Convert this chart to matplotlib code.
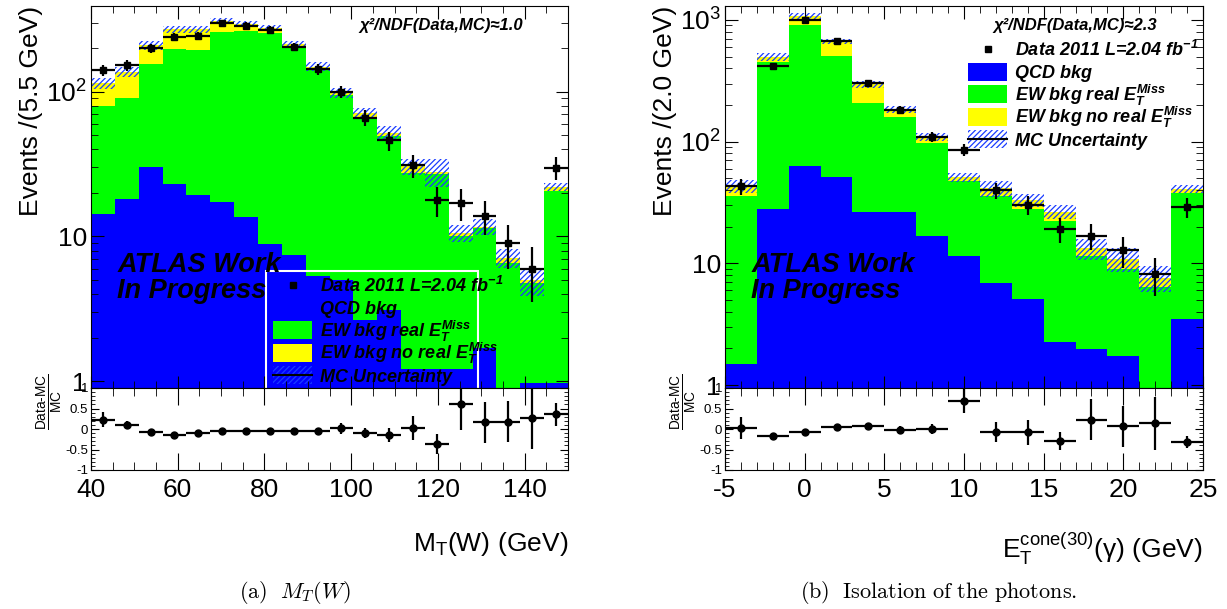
import numpy as np
import matplotlib
matplotlib.use('Agg')
import matplotlib.pyplot as plt
from matplotlib.patches import Rectangle
from matplotlib.ticker import MultipleLocator, LogLocator, FuncFormatter, NullFormatter, FixedLocator

# M_T(W) panel, 20 bins of 5.5 GeV from 40 to 150
mt_edges = 40 + 5.5 * np.arange(21)
mt_data = [141, 152, 199, 239, 242, 297, 284, 266, 204, 143, 100, 66, 46, 31, 17.9, 17, 13.9, 9.0, 6.0, 29.9]
mt_qcd = [14.3, 18.1, 30, 23, 19.4, 17.4, 13.7, 8.8, 7.4, 5.3, 5.0, 2.66, 3.12, 1.2, 1.2, 1.2, 1.68, 0, 0.96, 0.96]
mt_ew_real = [65.3, 72.9, 125, 174, 175.6, 241.6, 250.3, 246.2, 196.6, 135.7, 90, 64.3, 45.9, 26.2, 25.8, 8.8, 9.7, 6.6, 3.8, 19.8]
mt_ew_noreal = [34.4, 46, 55, 72, 74, 50, 29, 19, 8, 8, 2.5, 4, 3, 3.1, 1, 0.6, 0.3, 0.5, 0.23, 1.2]
mt_unc = [0.09, 0.08, 0.07, 0.06, 0.06, 0.05, 0.05, 0.05, 0.06, 0.07, 0.08, 0.09, 0.11, 0.13, 0.22, 0.13, 0.13, 0.15, 0.22, 0.06]
mt_ratio = [0.23, 0.10, -0.08, -0.14, -0.10, -0.06, -0.06, -0.06, -0.06, -0.06, 0.02, -0.10, -0.14, 0.02, -0.37, 0.62, 0.17, 0.18, 0.26, 0.36]
mt_ratio_err = [0.18, 0.10, 0.07, 0.06, 0.06, 0.06, 0.06, 0.06, 0.07, 0.08, 0.13, 0.13, 0.17, 0.30, 0.25, 0.64, 0.50, 0.50, 0.75, 0.28]

# photon isolation panel, 15 bins of 2 GeV from -5 to 25
iso_edges = -5 + 2.0 * np.arange(16)
iso_data = [43, 416, 998, 676, 304, 181, 110, 86, 39.8, 30.4, 19, 16.9, 12.8, 8.2, 29.1]
iso_qcd = [1.49, 27.9, 63, 51, 26.2, 26.4, 16.8, 11.5, 6.9, 5.1, 2.24, 1.96, 1.73, 0, 3.46]
iso_ew_real = [34.5, 420, 845, 457, 183, 132, 80, 35.5, 29, 23, 19.8, 9.6, 7.2, 6.35, 34.5]
iso_ew_noreal = [7, 48, 168, 156, 86, 26, 13, 4, 5.6, 4.8, 4.5, 1.7, 2, 1.25, 3]
iso_unc = [0.12, 0.08, 0.05, 0.05, 0.06, 0.07, 0.08, 0.09, 0.15, 0.12, 0.13, 0.20, 0.22, 0.24, 0.08]
iso_ratio = [0.02, -0.18, -0.08, 0.04, 0.07, -0.02, 0.0, 0.68, -0.07, -0.08, -0.29, 0.23, 0.07, 0.14, -0.31]
iso_ratio_err = [0.27, 0.04, 0.04, 0.05, 0.06, 0.10, 0.12, 0.30, 0.25, 0.30, 0.22, 0.50, 0.50, 0.65, 0.15]

legend_labels = [r'Data 2011 L=2.04 fb$\mathregular{^{-1}}$', 'QCD bkg',
                 r'EW bkg real $E_T^{Miss}$', r'EW bkg no real $E_T^{Miss}$',
                 'MC Uncertainty']

BLUE = '#0000ff'
GREEN = '#00ff00'
YELLOW = '#ffff00'
HATCH = '#1a3cff'

plt.rcParams['font.family'] = ['Liberation Sans', 'DejaVu Sans']
plt.rcParams['mathtext.fontset'] = 'custom'
plt.rcParams['mathtext.rm'] = 'Liberation Sans'
plt.rcParams['mathtext.it'] = 'Liberation Sans:italic:bold'
plt.rcParams['mathtext.bf'] = 'Liberation Sans:bold'
plt.rcParams['axes.unicode_minus'] = False
plt.rcParams['hatch.linewidth'] = 0.9

W, H = 1227, 609
fig = plt.figure(figsize=(W / 100, H / 100), dpi=100)


def px_axes(x0, y0, x1, y1):
    return fig.add_axes([x0 / W, 1 - y1 / H, (x1 - x0) / W, (y1 - y0) / H])


def log_fmt(v, pos):
    if v == 1:
        return '1'
    if v == 10:
        return '10'
    return r'$\mathregular{10^{%d}}$' % round(np.log10(v))


def legend(ax, x_box, y_first, pitch=22.5):
    # ROOT-like legend, positions in figure pixels
    tr = ax.transAxes.inverted()
    bw, bh = 39, 18
    for i, lab in enumerate(legend_labels):
        yc = y_first + i * pitch
        (ax0, ay0), (ax1, ay1) = tr.transform([(x_box, H - (yc + bh / 2)),
                                                (x_box + bw, H - (yc - bh / 2))])
        if i == 0:
            ax.plot([(ax0 + ax1) / 2], [(ay0 + ay1) / 2], 's', color='k', ms=5,
                    transform=ax.transAxes, clip_on=False)
        elif i < 4:
            ax.add_patch(Rectangle((ax0, ay0), ax1 - ax0, ay1 - ay0, transform=ax.transAxes,
                                   facecolor=[BLUE, GREEN, YELLOW][i - 1], lw=0, clip_on=False))
        else:
            ax.add_patch(Rectangle((ax0, ay0), ax1 - ax0, ay1 - ay0, transform=ax.transAxes,
                                   facecolor='none', edgecolor=HATCH, hatch='//////', lw=0,
                                   clip_on=False))
            ax.plot([ax0, ax1], [(ay0 + ay1) / 2] * 2, color='k', lw=1.5,
                    transform=ax.transAxes, clip_on=False)
        tx, ty = tr.transform((x_box + bw + 8, H - (yc + 6.5)))
        ax.text(tx, ty, lab, transform=ax.transAxes, fontsize=13, weight='bold',
                style='italic', va='baseline', ha='left')


def draw(ax, axr, edges, qcd, ew_real, ew_noreal, unc, data, ratio, ratio_err,
         ylim, minor_x, major_x, ylabel, xlabel, chi2):
    edges = np.asarray(edges)
    centers = 0.5 * (edges[1:] + edges[:-1])
    half = 0.5 * np.diff(edges)
    data = np.asarray(data)
    unc = np.asarray(unc)

    base = 1e-2
    c1 = base + np.asarray(qcd)
    c2 = c1 + np.asarray(ew_real)
    c3 = c2 + np.asarray(ew_noreal)
    ax.stairs(c1, edges, baseline=base, fill=True, color=BLUE, lw=0)
    ax.stairs(c2, edges, baseline=c1, fill=True, color=GREEN, lw=0)
    ax.stairs(c3, edges, baseline=c2, fill=True, color=YELLOW, lw=0)
    ax.stairs(c3 * (1 + unc), edges, baseline=c3 * (1 - unc), fill=True,
              facecolor='none', edgecolor=HATCH, hatch='//////', lw=0)
    ax.errorbar(centers, data, xerr=half, yerr=np.sqrt(data), fmt='s', color='k',
                ms=5, elinewidth=1.6, capsize=0)

    ax.set_yscale('log')
    ax.set_ylim(*ylim)
    ax.set_xlim(edges[0], edges[-1])
    ax.yaxis.set_major_locator(LogLocator(base=10))
    ax.yaxis.set_minor_locator(LogLocator(base=10, subs=np.arange(2, 10)))
    ax.yaxis.set_major_formatter(FuncFormatter(log_fmt))
    ax.yaxis.set_minor_formatter(NullFormatter())
    ax.xaxis.set_major_locator(MultipleLocator(major_x))
    ax.xaxis.set_minor_locator(MultipleLocator(minor_x))
    ax.tick_params(which='both', direction='in', top=True, right=True, labelbottom=False)
    ax.tick_params(which='major', length=9, labelsize=19, pad=3)
    ax.tick_params(which='minor', length=5)
    ax.set_ylabel(ylabel, fontsize=19, loc='top', labelpad=2)

    ax.text(0.055, 0.304, 'ATLAS Work', transform=ax.transAxes, fontsize=19.5,
            weight='bold', style='italic', va='baseline')
    ax.text(0.055, 0.236, 'In Progress', transform=ax.transAxes, fontsize=19.5,
            weight='bold', style='italic', va='baseline')
    ax.text(0.905, 0.937, chi2, transform=ax.transAxes, fontsize=12,
            weight='bold', style='italic', ha='right', va='baseline')

    axr.errorbar(centers, ratio, xerr=half, yerr=ratio_err, fmt='o', color='k',
                 ms=5, elinewidth=1.6, capsize=0)
    axr.set_xlim(edges[0], edges[-1])
    axr.set_ylim(-1, 1)
    axr.yaxis.set_major_locator(FixedLocator([-1, -0.5, 0, 0.5, 1]))
    axr.yaxis.set_minor_locator(MultipleLocator(0.1))
    axr.set_yticklabels(['-1', '-0.5', '0', '0.5', '1'])
    axr.xaxis.set_major_locator(MultipleLocator(major_x))
    axr.xaxis.set_minor_locator(MultipleLocator(minor_x))
    axr.tick_params(which='both', direction='in', top=True, right=True)
    axr.tick_params(axis='x', which='major', length=12, labelsize=19, pad=6)
    axr.tick_params(axis='x', which='minor', length=6)
    axr.tick_params(axis='y', which='major', length=6, labelsize=9.5, pad=2)
    axr.tick_params(axis='y', which='minor', length=3)
    axr.set_xlabel(xlabel, fontsize=19, loc='right', labelpad=20)


ax1 = px_axes(91, 6, 568, 388)
ax1r = px_axes(91, 388, 568, 470)
draw(ax1, ax1r, mt_edges, mt_qcd, mt_ew_real, mt_ew_noreal, mt_unc, mt_data,
     mt_ratio, mt_ratio_err, (0.9, 390), 5, 20, 'Events /(5.5 GeV)',
     r'$\mathrm{M_T(W)\ (GeV)}$', 'χ²/NDF(Data,MC)≈1.0')
ax1.add_patch(Rectangle((0.367, -0.01), 0.444, 0.316, transform=ax1.transAxes,
                        fill=False, ec='white', lw=1.5, clip_on=False))
legend(ax1, 273, 285)

ax2 = px_axes(725, 6, 1203, 388)
ax2r = px_axes(725, 388, 1203, 470)
draw(ax2, ax2r, iso_edges, iso_qcd, iso_ew_real, iso_ew_noreal, iso_unc, iso_data,
     iso_ratio, iso_ratio_err, (0.945, 1300), 1, 5, 'Events /(2.0 GeV)',
     r'$\mathrm{E_T^{cone(30)}(\gamma)\ (GeV)}$', 'χ²/NDF(Data,MC)≈2.3')
legend(ax2, 968, 49)

for x in (50, 684):
    fig.text(x / W, 1 - 402 / H, r'$\frac{\text{Data-MC}}{\text{MC}}$', fontsize=14,
             rotation=90, ha='center', va='center')

fig.text(295 / W, 1 - 592 / H, r'$\mathrm{(a)}\ \ M_T(W)$', fontsize=16,
         math_fontfamily='cm', ha='center', va='center')
fig.text(939 / W, 1 - 592 / H, r'$\mathrm{(b)\ \ Isolation\ of\ the\ photons.}$',
         fontsize=16, math_fontfamily='cm', ha='center', va='center')

fig.savefig('out.png', dpi=100)
